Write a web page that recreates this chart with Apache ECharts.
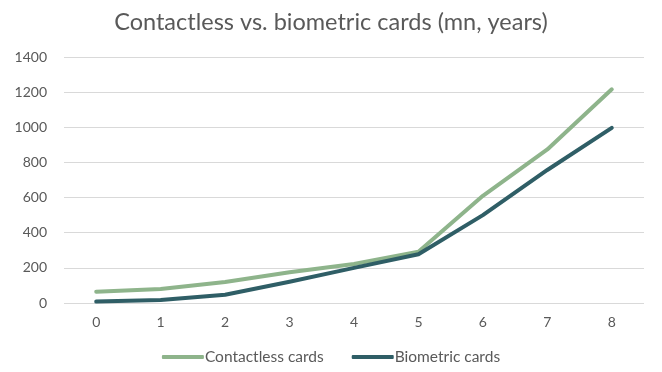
<!DOCTYPE html>
<html><head><meta charset="utf-8">
<script src="https://cdn.jsdelivr.net/npm/echarts@6/dist/echarts.min.js"></script>
<style>html,body{margin:0;padding:0;background:#fff}#c{width:662px;height:372px}</style>
</head><body><div id="c"></div>
<script>
const categories = ['0','1','2','3','4','5','6','7','8'];
const contactless = [64, 80, 120, 175, 222, 292, 610, 874, 1216];
const biometric = [8, 17, 47, 121, 200, 277, 500, 757, 997];
const seriesNames = ['Contactless cards', 'Biometric cards'];
const colors = ['#8EB48B', '#2F5E66'];

const chart = echarts.init(document.getElementById('c'), null, {renderer:'canvas'});
const font = 'Lato, "Open Sans", sans-serif';
chart.setOption({
  animation: false,
  textStyle: {fontFamily: font},
  title: {
    text: 'Contactless vs. biometric cards (mn, years)',
    left: 'center', top: 5,
    textStyle: {fontFamily: font, fontSize: 23.5, fontWeight: 'normal', color: '#595959'}
  },
  legend: {
    bottom: 2, left: 'center',
    itemWidth: 42, itemHeight: 4, itemGap: 28,
    icon: 'roundRect',
    textStyle: {fontFamily: font, fontSize: 15.5, color: '#595959', padding: [0,0,0,-4]},
    data: seriesNames
  },
  grid: {left: 64, right: 18, top: 57, bottom: 69},
  xAxis: {
    type: 'category', data: categories, boundaryGap: true,
    axisLine: {show: false}, axisTick: {show: false},
    axisLabel: {fontFamily: font, fontSize: 14, color: '#595959', margin: 12}
  },
  yAxis: {
    type: 'value', min: 0, max: 1400, interval: 200,
    axisLine: {show: false}, axisTick: {show: false},
    axisLabel: {fontFamily: font, fontSize: 14, color: '#595959', margin: 17, formatter: v => String(v)},
    splitLine: {lineStyle: {color: '#D9D9D9', width: 1}}
  },
  series: [
    {name: seriesNames[0], type: 'line', data: contactless, symbol: 'none',
     lineStyle: {width: 4, color: colors[0], cap: 'round', join: 'round'}, itemStyle: {color: colors[0]}},
    {name: seriesNames[1], type: 'line', data: biometric, symbol: 'none',
     lineStyle: {width: 4, color: colors[1], cap: 'round', join: 'round'}, itemStyle: {color: colors[1]}}
  ]
});
</script></body></html>
